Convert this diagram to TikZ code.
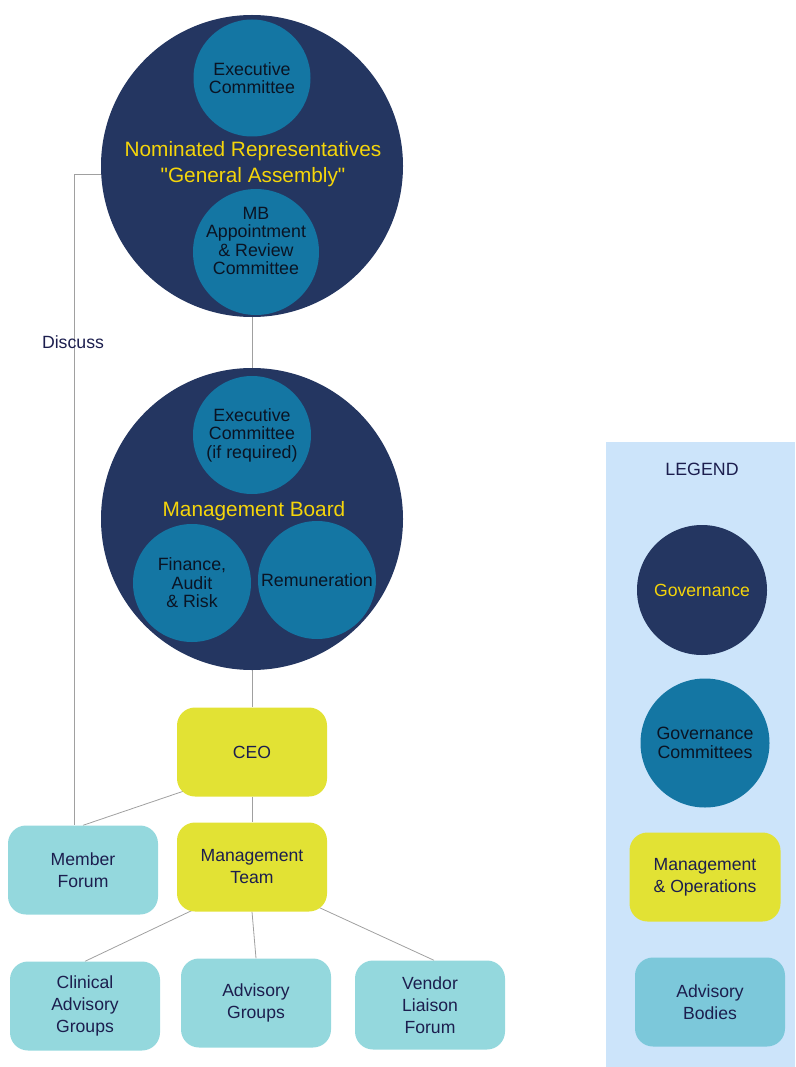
\documentclass[tikz,border=0pt]{standalone}
\usepackage{fontspec}
\setmainfont{Liberation Sans}[Ligatures=TeXOff]
\usetikzlibrary{backgrounds}
\definecolor{govnavy}{RGB}{36,54,97}
\definecolor{comteal}{RGB}{20,118,163}
\definecolor{govgold}{RGB}{245,213,10}
\definecolor{opsyellow}{RGB}{226,226,52}
\definecolor{advcyan}{RGB}{148,216,221}
\definecolor{legadv}{RGB}{124,200,218}
\definecolor{legendbg}{RGB}{204,228,250}
\definecolor{boxtext}{RGB}{28,30,78}
\definecolor{comtext}{RGB}{10,20,36}
\definecolor{linegray}{RGB}{160,160,160}
\tikzset{
	govcircle/.style={circle, fill=govnavy, inner sep=0pt, minimum size=302pt},
	comcircle/.style={circle, fill=comteal, inner sep=0pt, minimum size=117pt, align=center, text=comtext, font=\fontsize{17.8}{18.5}\selectfont},
	govtext/.style={text=govgold, align=center, font=\fontsize{20.8}{26}\selectfont},
	opsbox/.style={rounded corners=18pt, fill=opsyellow, minimum width=150pt, minimum height=89pt, align=center, text=boxtext, font=\fontsize{17.6}{22}\selectfont},
	advbox/.style={opsbox, fill=advcyan},
	link/.style={draw=linegray, line width=0.8pt}
}

\begin{document}
\begin{tikzpicture}[x=1pt, y=-1pt]
	\useasboundingbox (0,0) rectangle (795,1067);

	% governance circles
	\node[govcircle] (nomrep) at (252,166) {};
	\node[comcircle] (execom) at (252,78) {Executive\\Committee};
	\node[comcircle, minimum size=126pt] (mbarc) at (256,252) {};
	\node[comcircle, fill=none] (mbarctext) at (256,241) {MB\\Appointment\\\& Review\\Committee};
	\node[govtext] (nomreptext) at (253,164) {Nominated Representatives\\"General Assembly"};

	\node[govcircle] (mboard) at (252,519) {};
	\node[comcircle, minimum size=118pt] (execreq) at (252,435) {Executive\\Committee\\(if required)};
	\node[comcircle, minimum size=118pt] (finance) at (192,583) {Finance,\\Audit\\\& Risk};
	\node[comcircle, minimum size=118pt] (remun) at (317,580) {Remuneration};
	\node[govtext] (mboardtext) at (254,511) {Management Board};

	% management and advisory boxes
	\node[opsbox] (ceo) at (252,752) {CEO};
	\node[opsbox] (mteam) at (252,867) {Management\\Team};
	\node[advbox] (member) at (83,870) {Member\\Forum};
	\node[advbox] (clinical) at (85,1006) {Clinical\\Advisory\\Groups};
	\node[advbox] (advgroups) at (256,1003) {Advisory\\Groups};
	\node[advbox] (vendor) at (430,1005) {Vendor\\Liaison\\Forum};

	\node[text=boxtext, font=\fontsize{17.7}{22}\selectfont] (discuss) at (73,342) {Discuss};

	\begin{scope}[on background layer]
		\draw[link] (nomrep.south) -- (mboard.north);
		\draw[link] (mboard.south) -- (ceo.north);
		\draw[link] (ceo.south) -- (mteam.north);
		\draw[link] ([shift={(11,-7)}]ceo.south west) -- (member.north);
		\draw[link] (nomrep.183) -| ([xshift=-9pt]member.north);
		\draw[link] ([shift={(21,-4)}]mteam.south west) -- (clinical.north);
		\draw[link] (mteam.south) -- (advgroups.north);
		\draw[link] ([shift={(-12,-6)}]mteam.south east) -- ([xshift=4pt]vendor.north);
	\end{scope}

	% legend
	\fill[legendbg] (606,442) rectangle (795,1067);
	\node[text=boxtext, font=\fontsize{17.8}{22}\selectfont] (legendtitle) at (702,469) {LEGEND};
	\node[govcircle, minimum size=130pt, text=govgold, font=\fontsize{17.6}{22}\selectfont] (leggov) at (702,590) {Governance};
	\node[comcircle, minimum size=129pt] (legcom) at (705,743) {Governance\\Committees};
	\node[opsbox, minimum width=151pt] (legops) at (705,877) {Management\\\& Operations};
	\node[advbox, fill=legadv] (legadvb) at (710,1002) {Advisory\\Bodies};
\end{tikzpicture}
\end{document}
